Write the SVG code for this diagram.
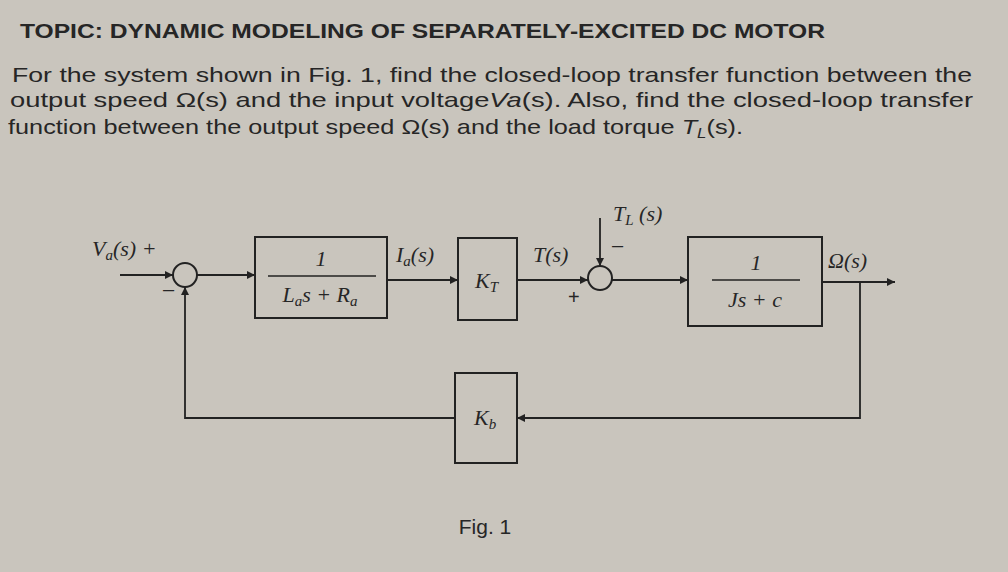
<svg xmlns="http://www.w3.org/2000/svg" width="1008" height="572" viewBox="0 0 1008 572">
<defs>
<marker id="ah" viewBox="0 0 10 10" refX="10" refY="5" markerWidth="8" markerHeight="8" orient="auto" markerUnits="userSpaceOnUse"><path d="M0,0 L10,5 L0,10 z" fill="#222"/></marker>
<style>
.t{font-family:"Liberation Sans",Arial,sans-serif;fill:#262626}
.m{font-family:"Liberation Serif","Times New Roman",serif;font-style:italic;fill:#262626;font-size:22px}
.b{fill:none;stroke:#222;stroke-width:2}
.l{fill:none;stroke:#222;stroke-width:1.8}
</style>
</defs>
<rect width="1008" height="572" fill="#c9c5bd"/>
<text class="t" x="20" y="38" font-size="21" font-weight="bold" textLength="805" lengthAdjust="spacingAndGlyphs">TOPIC: DYNAMIC MODELING OF SEPARATELY-EXCITED DC MOTOR</text>
<text class="t" x="12" y="82" font-size="21" textLength="960" lengthAdjust="spacingAndGlyphs">For the system shown in Fig. 1, find the closed-loop transfer function between the</text>
<text class="t" x="10" y="107" font-size="21" textLength="963" lengthAdjust="spacingAndGlyphs">output speed Ω(s) and the input voltage<tspan font-style="italic">Va</tspan>(s). Also, find the closed-loop transfer</text>
<text class="t" x="8" y="134" font-size="21" textLength="735" lengthAdjust="spacingAndGlyphs">function between the output speed Ω(s) and the load torque <tspan font-style="italic">T<tspan font-size="14" dy="4">L</tspan></tspan><tspan dy="-4">(s).</tspan></text>
<g id="connectors">
<path class="l" d="M120,275 H173" marker-end="url(#ah)"/>
<path class="l" d="M197,275 H255" marker-end="url(#ah)"/>
<path class="l" d="M387,280 H458" marker-end="url(#ah)"/>
<path class="l" d="M517,280 H588" marker-end="url(#ah)"/>
<path class="l" d="M600,218 V266" marker-end="url(#ah)"/>
<path class="l" d="M612,280 H688" marker-end="url(#ah)"/>
<path class="l" d="M822,282 H895" marker-end="url(#ah)"/>
<path class="l" d="M860,282 V418 H517" marker-end="url(#ah)"/>
<path class="l" d="M455,418 H185 V287" marker-end="url(#ah)"/>
</g>
<g id="sum1"><circle class="b" cx="185" cy="275" r="12"/></g>
<text class="m" x="92" y="256">V<tspan font-size="15" dy="4">a</tspan><tspan dy="-4">(s) +</tspan></text>
<text class="t" x="163" y="296" font-size="20">–</text>
<g id="block1"><rect class="b" x="255" y="237" width="132" height="81"/>
<text class="m" x="321" y="266" text-anchor="middle">1</text>
<line x1="268" y1="276" x2="376" y2="276" stroke="#222" stroke-width="1.5"/>
<text class="m" x="320" y="302" text-anchor="middle">L<tspan font-size="15" dy="4">a</tspan><tspan dy="-4">s + R</tspan><tspan font-size="15" dy="4">a</tspan></text></g>
<text class="m" x="396" y="262">I<tspan font-size="15" dy="4">a</tspan><tspan dy="-4">(s)</tspan></text>
<g id="kt"><rect class="b" x="458" y="238" width="59" height="82"/>
<text class="m" x="475" y="288">K<tspan font-size="15" dy="4">T</tspan></text></g>
<text class="m" x="533" y="262">T(s)</text>
<g id="sum2"><circle class="b" cx="600" cy="278" r="12"/></g>
<text class="t" x="568" y="304" font-size="20">+</text>
<text class="t" x="612" y="252" font-size="20">–</text>
<text class="m" x="613" y="221">T<tspan font-size="15" dy="4">L</tspan><tspan dy="-4"> (s)</tspan></text>
<g id="block3"><rect class="b" x="688" y="237" width="134" height="89"/>
<text class="m" x="756" y="270" text-anchor="middle">1</text>
<line x1="712" y1="280" x2="800" y2="280" stroke="#222" stroke-width="1.5"/>
<text class="m" x="755" y="307" text-anchor="middle">Js + c</text></g>
<text class="m" x="828" y="268">Ω(s)</text>
<g id="kb"><rect class="b" x="455" y="373" width="62" height="90"/>
<text class="m" x="474" y="425">K<tspan font-size="15" dy="4">b</tspan></text></g>
<text class="t" x="485" y="534" font-size="21" text-anchor="middle">Fig. 1</text>
</svg>
